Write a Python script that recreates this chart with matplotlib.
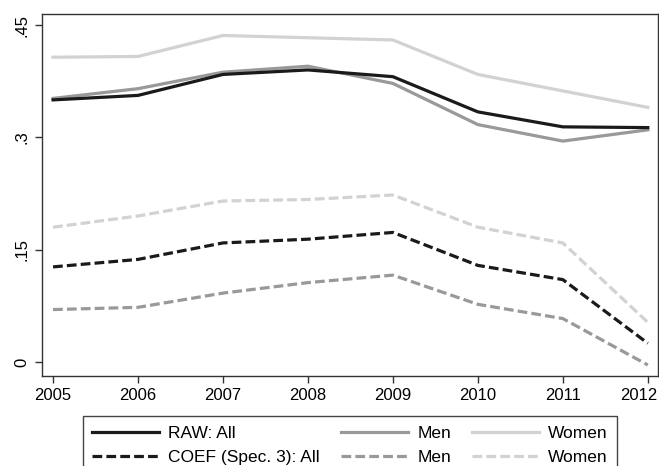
import matplotlib
matplotlib.use("Agg")
import matplotlib.pyplot as plt
import matplotlib.transforms as mtransforms

plt.rcParams['font.family'] = ['Liberation Sans', 'DejaVu Sans']
plt.rcParams['lines.scale_dashes'] = False

years = [2005, 2006, 2007, 2008, 2009, 2010, 2011, 2012]
raw_all = [0.350, 0.356, 0.384, 0.390, 0.381, 0.334, 0.314, 0.313]
raw_men = [0.352, 0.365, 0.387, 0.395, 0.372, 0.317, 0.295, 0.310]
raw_women = [0.407, 0.408, 0.436, 0.433, 0.430, 0.384, 0.362, 0.340]
coef_all = [0.127, 0.137, 0.159, 0.164, 0.173, 0.129, 0.110, 0.025]
coef_men = [0.070, 0.073, 0.092, 0.106, 0.116, 0.077, 0.058, -0.004]
coef_women = [0.180, 0.195, 0.215, 0.217, 0.223, 0.180, 0.159, 0.053]

ytick_vals = [0, 0.15, 0.3, 0.45]
ytick_labels = ["0", ".15", ".3", ".45"]

c_all = "#1a1a1a"
c_men = "#999999"
c_women = "#d2d2d2"
lw = 2.3
dash = (7, 3)

fig = plt.figure(figsize=(6.59, 4.66), dpi=100)
ax = fig.add_axes([42/659, 1-376/466, (658-42)/659, (376-14)/466])

ax.plot(years, raw_all, color=c_all, lw=lw, label="RAW: All", zorder=6)
ax.plot(years, raw_men, color=c_men, lw=lw, label="Men", zorder=5)
ax.plot(years, raw_women, color=c_women, lw=lw, label="Women", zorder=4)
ax.plot(years, coef_all, color=c_all, lw=lw, dashes=dash, label="COEF (Spec. 3): All", zorder=6)
ax.plot(years, coef_men, color=c_men, lw=lw, dashes=dash, label="Men", zorder=5)
ax.plot(years, coef_women, color=c_women, lw=lw, dashes=dash, label="Women", zorder=4)

ax.set_xlim(2004.87, 2012.12)
ax.set_ylim(-0.0187, 0.4647)
ax.set_xticks(years)
ax.set_xticklabels([str(y) for y in years], fontsize=12)
ax.set_yticks(ytick_vals)
ax.set_yticklabels(ytick_labels, fontsize=12, rotation=90, va='center')
ax.tick_params(axis='both', direction='out', length=5, width=1, color='#333333', pad=4)
for s in ax.spines.values():
    s.set_color('#333333')
    s.set_linewidth(1)

# keep the last year label inside the figure, as in the reference
last = ax.get_xticklabels()[-1]
last.set_horizontalalignment('right')
last.set_transform(last.get_transform() + mtransforms.ScaledTranslation(10/100, 0, fig.dpi_scale_trans))

h, l = ax.get_legend_handles_labels()
order = [0, 3, 1, 4, 2, 5]
leg = fig.legend([h[i] for i in order], [l[i] for i in order], ncol=3,
                 loc='upper center', bbox_to_anchor=(350/659, 1-416/466),
                 borderaxespad=0,
                 fontsize=12.5, handlelength=3.85, handletextpad=0.55,
                 columnspacing=1.2, labelspacing=0.55, borderpad=0.55,
                 fancybox=False, framealpha=1, edgecolor='#444444')
leg.get_frame().set_linewidth(1)

fig.savefig("out.png", dpi=100)
